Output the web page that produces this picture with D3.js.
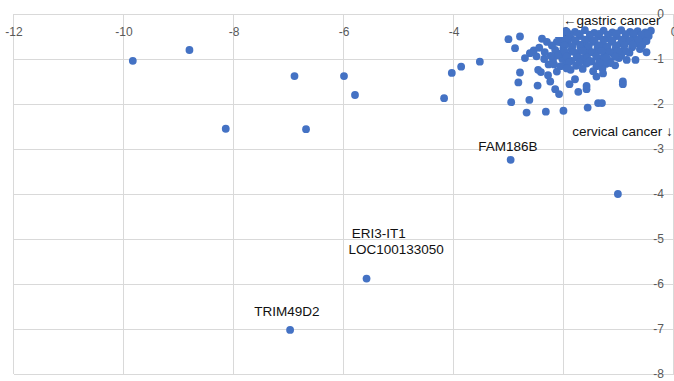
<!DOCTYPE html>
<html>
<head>
<meta charset="utf-8">
<script src="https://cdn.jsdelivr.net/npm/d3@7"></script>
<style>
  body { margin: 0; background: #fff; }
  svg { display: block; }
</style>
</head>
<body>
<div id="chart"></div>
<script>
// axis ticks
const xTicks = [-12, -10, -8, -6, -4, -2, 0];
const yTicks = [0, -1, -2, -3, -4, -5, -6, -7, -8];

// the dense group of genes near the origin, [x, y]
const clusterPoints = [
  [-1.98, -0.38], [-1.80, -0.40], [-1.62, -0.36], [-1.45, -0.42], [-1.28, -0.37], [-1.12, -0.41],
  [-0.96, -0.36], [-0.80, -0.40], [-0.66, -0.38], [-0.52, -0.41], [-0.42, -0.37],
  [-2.04, -0.50], [-1.88, -0.53], [-1.71, -0.49], [-1.54, -0.55], [-1.37, -0.50], [-1.20, -0.54],
  [-1.04, -0.49], [-0.88, -0.55], [-0.73, -0.50], [-0.58, -0.53], [-0.46, -0.49],
  [-2.06, -0.63], [-1.93, -0.66], [-1.79, -0.61], [-1.63, -0.67], [-1.46, -0.62], [-1.29, -0.68],
  [-1.13, -0.62], [-0.97, -0.66], [-0.83, -0.61], [-0.69, -0.65], [-0.55, -0.62],
  [-2.01, -0.76], [-1.86, -0.79], [-1.70, -0.74], [-1.55, -0.80], [-1.39, -0.75], [-1.22, -0.81],
  [-1.06, -0.76], [-0.91, -0.80], [-0.76, -0.74], [-0.62, -0.78],
  [-2.08, -0.88], [-1.94, -0.91], [-1.76, -0.87], [-1.60, -0.93], [-1.43, -0.88], [-1.27, -0.94],
  [-1.11, -0.88], [-0.96, -0.92], [-0.81, -0.86],
  [-2.03, -1.00], [-1.86, -1.04], [-1.68, -0.99], [-1.50, -1.05], [-1.33, -1.00], [-1.17, -1.04],
  [-1.00, -0.98], [-0.86, -1.02],
  [-1.96, -1.12], [-1.78, -1.15], [-1.59, -1.10], [-1.41, -1.16], [-1.24, -1.11], [-1.07, -1.14],
  [-1.88, -1.24], [-1.66, -1.22], [-1.47, -1.27], [-1.30, -1.21],
  [-1.90, -0.45], [-1.72, -0.44], [-1.53, -0.46], [-1.36, -0.44], [-1.20, -0.46], [-1.04, -0.43],
  [-0.88, -0.45], [-0.73, -0.43], [-0.59, -0.46], [-0.47, -0.44],
  [-1.98, -0.57], [-1.80, -0.58], [-1.62, -0.57], [-1.45, -0.59], [-1.28, -0.57], [-1.12, -0.58],
  [-0.95, -0.57], [-0.80, -0.58], [-0.65, -0.57],
  [-1.99, -0.70], [-1.85, -0.72], [-1.71, -0.68], [-1.55, -0.71], [-1.37, -0.69], [-1.21, -0.72],
  [-1.05, -0.70], [-0.90, -0.69], [-0.75, -0.68],
  [-1.99, -0.83], [-1.83, -0.84], [-1.66, -0.82], [-1.49, -0.85], [-1.32, -0.82], [-1.17, -0.84],
  [-1.02, -0.82], [-0.87, -0.83],
  [-1.95, -0.95], [-1.77, -0.96], [-1.58, -0.97], [-1.41, -0.95], [-1.23, -0.97], [-1.07, -0.95],
  [-1.91, -1.07], [-1.72, -1.08], [-1.54, -1.06], [-1.36, -1.08], [-1.15, -1.09],
  [-0.50, -0.60], [-0.50, -0.85], [-0.70, -1.02], [-0.58, -0.70],
  [-2.10, -0.47], [-2.13, -0.62], [-1.95, -0.39],
  [-2.40, -0.55], [-2.31, -0.62], [-2.22, -0.70], [-2.16, -0.80], [-2.12, -0.92], [-2.20, -1.02],
  [-2.28, -1.12], [-2.13, -1.28], [-2.29, -1.36], [-2.25, -1.50], [-2.42, -1.29], [-2.47, -1.24],
  [-2.55, -0.81], [-2.50, -0.94], [-2.62, -0.87], [-2.71, -0.98], [-2.45, -0.75], [-2.35, -0.85],
  [-2.24, -0.93], [-2.18, -1.12], [-2.36, -1.00], [-2.06, -1.16],
  [-3.01, -0.56], [-2.80, -0.50], [-2.89, -0.76], [-2.80, -1.30], [-2.83, -1.52], [-2.96, -1.96],
  [-2.63, -1.91], [-2.68, -2.19], [-2.48, -1.59], [-2.33, -2.17], [-2.01, -2.15], [-1.57, -2.08],
  [-1.38, -1.98], [-1.31, -1.98], [-2.16, -1.67], [-2.09, -1.78], [-1.90, -1.56], [-1.80, -1.45],
  [-1.74, -1.73], [-1.59, -1.60], [-1.59, -1.67], [-1.41, -1.39], [-1.29, -1.32], [-0.93, -1.50],
  [-0.93, -1.56], [-1.95, -1.21]
];

// scattered genes further out
const outlierPoints = [
  [-9.84, -1.04], [-8.81, -0.80], [-6.90, -1.38], [-8.15, -2.55], [-6.69, -2.56],
  [-6.00, -1.38], [-5.80, -1.80], [-4.18, -1.87], [-4.04, -1.31], [-3.87, -1.17],
  [-3.53, -1.06], [-2.97, -3.24], [-1.02, -4.00], [-5.59, -5.88], [-6.98, -7.02]
];

// gene labels: text and baseline position in data units
const geneLabels = [
  { text: "FAM186B", x: -3.56, y: -3.04 },
  { text: "ERI3-IT1", x: -5.86, y: -4.98 },
  { text: "LOC100133050", x: -5.92, y: -5.34 },
  { text: "TRIM49D2", x: -7.63, y: -6.72 }
];

const width = 674, height = 381;

const svg = d3.select("#chart").append("svg")
  .attr("width", width)
  .attr("height", height);

const x = d3.scaleLinear().domain([-12, 0]).range([14, 674]);
const y = d3.scaleLinear().domain([0, -8]).range([14, 374]);

const gridColor = "#d9d9d9";
const tickColor = "#595959";

// horizontal gridlines
svg.append("g").selectAll("line")
  .data(yTicks)
  .enter().append("line")
  .attr("x1", x(-12)).attr("x2", x(0))
  .attr("y1", d => y(d) + 0.5).attr("y2", d => y(d) + 0.5)
  .attr("stroke", gridColor).attr("stroke-width", 1);

// vertical gridlines
svg.append("g").selectAll("line")
  .data(xTicks)
  .enter().append("line")
  .attr("x1", d => x(d) - 0.5).attr("x2", d => x(d) - 0.5)
  .attr("y1", y(0)).attr("y2", y(-8))
  .attr("stroke", gridColor).attr("stroke-width", 1);

// x tick labels sit just under the top axis (y = 0)
svg.append("g").selectAll("text")
  .data(xTicks)
  .enter().append("text")
  .attr("x", d => x(d))
  .attr("y", y(0) + 22)
  .attr("text-anchor", "middle")
  .style("font-family", "Liberation Sans, Arial, sans-serif")
  .style("font-size", "12px")
  .style("fill", tickColor)
  .text(d => d);

// y tick labels along the right axis (x = 0)
svg.append("g").selectAll("text")
  .data(yTicks)
  .enter().append("text")
  .attr("x", x(0) - 10)
  .attr("y", d => y(d) + 4)
  .attr("text-anchor", "end")
  .style("font-family", "Liberation Sans, Arial, sans-serif")
  .style("font-size", "12px")
  .style("fill", tickColor)
  .text(d => d);

// dots
const dotColor = "#4472c4";
svg.append("g").selectAll("circle")
  .data(clusterPoints.concat(outlierPoints))
  .enter().append("circle")
  .attr("cx", d => x(d[0]))
  .attr("cy", d => y(d[1]))
  .attr("r", 3.9)
  .attr("fill", dotColor);

const labelFont = "Liberation Sans, Helvetica, Arial, sans-serif";

// annotation box covering the "-" of the -2 tick
svg.append("rect")
  .attr("x", x(-2) - 10).attr("y", y(0) + 1)
  .attr("width", 9).attr("height", 22)
  .attr("fill", "#fff");

svg.append("text")
  .attr("x", x(-2) - 1)
  .attr("y", y(0) + 11)
  .style("font-family", labelFont)
  .style("font-size", "13.5px")
  .style("fill", "#111")
  .text("\u2190gastric cancer");

svg.append("text")
  .attr("x", x(-1.85))
  .attr("y", y(-2.71))
  .style("font-family", labelFont)
  .style("font-size", "13.5px")
  .style("fill", "#111")
  .text("cervical cancer \u2193");

svg.append("g").selectAll("text")
  .data(geneLabels)
  .enter().append("text")
  .attr("x", d => x(d.x))
  .attr("y", d => y(d.y))
  .style("font-family", labelFont)
  .style("font-size", "13.5px")
  .style("fill", "#111")
  .text(d => d.text);
</script>
</body>
</html>
